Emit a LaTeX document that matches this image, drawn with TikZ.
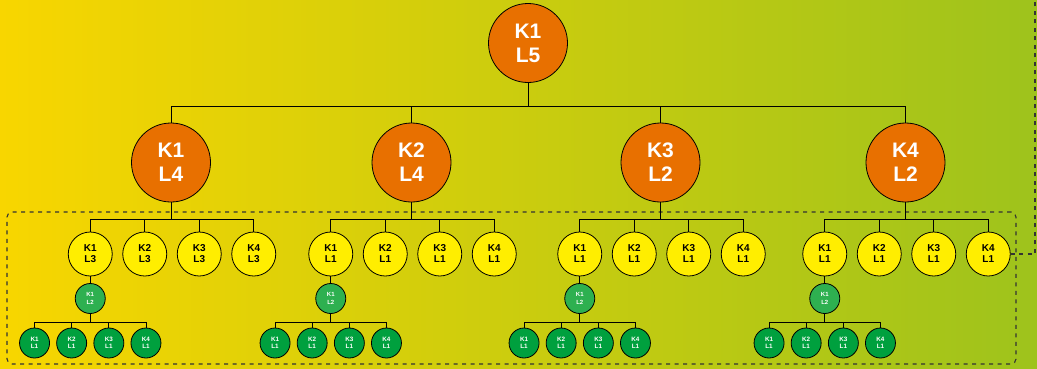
\documentclass[tikz,border=0pt]{standalone}
\usepackage{fontspec}
\setmainfont{Liberation Sans}
\definecolor{bgL}{RGB}{248,214,0}
\definecolor{bgR}{RGB}{158,195,28}
\definecolor{orangeC}{RGB}{232,112,0}
\definecolor{yellowC}{RGB}{255,238,0}
\definecolor{greenM}{RGB}{46,176,80}
\definecolor{greenL}{RGB}{0,160,62}
\tikzset{
  bignode/.style={circle, draw=black, line width=0.8pt, fill=orangeC, text=white,
    minimum size=79pt, inner sep=0pt, align=center,
    font=\bfseries\fontsize{21}{24}\selectfont},
  yelnode/.style={circle, draw=black, line width=0.8pt, fill=yellowC, text=black,
    minimum size=44pt, inner sep=0pt, align=center,
    font=\bfseries\fontsize{10}{11}\selectfont},
  midnode/.style={circle, draw=black, line width=0.8pt, fill=greenM, text=white,
    minimum size=30pt, inner sep=0pt, align=center,
    font=\bfseries\fontsize{6}{7.5}\selectfont},
  leafnode/.style={circle, draw=black, line width=0.8pt, fill=greenL, text=white,
    minimum size=30pt, inner sep=0pt, align=center,
    font=\bfseries\fontsize{6.3}{7.3}\selectfont},
  conn/.style={draw=black, line width=0.9pt},
  dashline/.style={draw=black!80, line width=1.1pt, dash pattern=on 4pt off 4.5pt},
}
\begin{document}
\begin{tikzpicture}[x=1pt,y=-1pt]
\useasboundingbox (0,0) rectangle (1037,368);
\shade[left color=bgL, right color=bgR] (0,0) rectangle (1037,368);
% group container
\node[dashline, rounded corners=5pt, minimum width=1009pt, minimum height=152pt, inner sep=0pt] (grp) at (511.5,288) {};
% root
\node[bignode] (top) at (528,43) {K1\\L5};
\coordinate (b0) at (528,106);
\foreach \g/\px/\pl/\cl in {1/171/4/3, 2/411.5/4/1, 3/660.5/2/1, 4/905.5/2/1} {
  \node[bignode] (p\g) at (\px,162.5) {K\g\\L\pl};
  \draw[conn] (top.south) -- (b0) -| (p\g.north);
  \coordinate (b\g) at (\px,219);
  \foreach \k/\dx in {1/-81.75,2/-27.25,3/27.25,4/81.75} {
    \node[yelnode] (y\g\k) at (\px+1+\dx,254) {K\k\\L\cl};
    \draw[conn] (p\g.south) -- (b\g) -| (y\g\k.north);
  }
  \node[midnode] (g\g) at (\px+1-81.75,298.5) {K1\\L2};
  \draw[conn] (y\g1.south) -- (g\g.north);
  \coordinate (l\g) at (\px+1-81.75,322);
  \foreach \k/\dx in {1/-55.7,2/-18.6,3/18.6,4/55.7} {
    \node[leafnode] (f\g\k) at (\px+1-81.75+\dx,343) {K\k\\L1};
    \draw[conn] (g\g.south) -- (l\g) -| (f\g\k.north);
  }
}
% dashed connector leaving the picture
\coordinate (c1) at (1035,254);
\coordinate (c2) at (1035,0);
\draw[dashline] (y44.east) -- (c1) -- (c2);
\end{tikzpicture}
\end{document}
